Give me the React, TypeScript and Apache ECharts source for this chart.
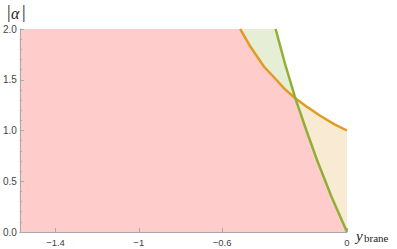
import React, { useEffect, useRef } from "react";
import * as echarts from "echarts";

// Axis extents and ticks
const xMin = -1.571;
const xMax = 0;
const yMin = 0;
const yMax = 2;
const xTickValues = [-1.4, -1, -0.6, 0];

// Orange curve (|alpha| vs y_brane)
const orangeX = [-0.513, -0.462, -0.399, -0.335, -0.3, -0.25, -0.19, -0.129, -0.06, 0];
const orangeY = [2.0, 1.82, 1.63, 1.49, 1.41, 1.32, 1.23, 1.145, 1.06, 1.0];

// Green curve
const greenX = [-0.343, -0.298, -0.248, -0.195, -0.144, -0.075, 0];
const greenY = [2.0, 1.66, 1.317, 1.0, 0.709, 0.35, 0];

// Crossing point of the two curves
const crossX = -0.249;
const crossY = 1.318;

const PINK = "#FFCCCC";
const LIGHT_GREEN = "#E7EED6";
const BEIGE = "#F9EAD4";
const ORANGE = "#E19C24";
const GREEN = "#8FB032";

function pts(xs: number[], ys: number[]) {
  return xs.map((x, i) => [x, ys[i]]);
}

export default function App() {
  const ref = useRef<HTMLDivElement>(null);
  useEffect(() => {
    if (!ref.current) return;
    const chart = echarts.init(ref.current, undefined, { renderer: "svg" });

    const orange = pts(orangeX, orangeY);
    const green = pts(greenX, greenY);

    const greenFill = [
      [xMin, yMax],
      ...green.filter((p) => p[1] > crossY),
      [crossX, crossY],
      ...orange.filter((p) => p[0] > crossX),
    ];
    const beigeFill = [[xMin, yMax], ...orange];
    const pinkFill = [
      [xMin, yMax],
      ...orange.filter((p) => p[0] < crossX),
      [crossX, crossY],
      ...green.filter((p) => p[0] > crossX),
    ];

    const fill = (data: number[][], color: string) => ({
      type: "line",
      data,
      symbol: "none",
      lineStyle: { width: 0 },
      areaStyle: { color, opacity: 1 },
      silent: true,
    });

    chart.setOption({
      animation: false,
      grid: { left: 17, right: 50, top: 29, bottom: 17, containLabel: false },
      xAxis: {
        type: "value",
        min: xMin,
        max: xMax,
        axisLine: { onZero: false, lineStyle: { color: "#A8A8A8", width: 1 } },
        axisTick: {
          inside: true,
          length: 4,
          customValues: xTickValues,
          lineStyle: { color: "#A8A8A8" },
        },
        axisLabel: {
          customValues: xTickValues,
          formatter: (v: number) => (v === 0 ? "0" : "\u2212" + Math.abs(v)),
          fontSize: 9.5,
          fontFamily: "Liberation Sans",
          color: "#444",
          margin: 5,
          showMinLabel: true,
          showMaxLabel: true,
        },
        splitLine: { show: false },
        z: 10,
      },
      yAxis: {
        type: "value",
        min: yMin,
        max: yMax,
        interval: 0.5,
        axisLine: { show: true, onZero: false, lineStyle: { color: "#A8A8A8", width: 1 } },
        axisTick: { show: true, inside: true, length: 4, lineStyle: { color: "#A8A8A8" } },
        minorTick: { show: true, splitNumber: 5, length: 2, lineStyle: { color: "#A8A8A8" } },
        axisLabel: {
          formatter: (v: number) => v.toFixed(1),
          fontSize: 10,
          fontFamily: "Liberation Sans",
          color: "#444",
          margin: 3,
        },
        splitLine: { show: false },
        z: 10,
      },
      graphic: [
        { type: "text", x: 7, y: 12, style: { text: "|", font: "18px 'Liberation Serif'", fill: "#222", verticalAlign: "middle" } },
        { type: "text", x: 11, y: 13, style: { text: "α", font: "italic 16px 'Liberation Serif'", fill: "#222", verticalAlign: "middle" } },
        { type: "text", x: 22, y: 12, style: { text: "|", font: "18px 'Liberation Serif'", fill: "#222", verticalAlign: "middle" } },
        { type: "text", x: 356, y: 236, style: { text: "y", font: "italic 15px 'Liberation Serif'", fill: "#222", verticalAlign: "middle" } },
        { type: "text", x: 364, y: 238, style: { text: "brane", font: "11px 'Liberation Serif'", fill: "#222", verticalAlign: "middle" } },
      ],
      series: [
        fill(greenFill, LIGHT_GREEN),
        fill(beigeFill, BEIGE),
        fill(pinkFill, PINK),
        {
          type: "line",
          data: orange,
          symbol: "none",
          lineStyle: { color: ORANGE, width: 2.5 },
          z: 5,
        },
        {
          type: "line",
          data: green,
          symbol: "none",
          lineStyle: { color: GREEN, width: 2.5 },
          z: 6,
        },
      ],
    });
    return () => chart.dispose();
  }, []);
  return <div ref={ref} style={{ width: 397, height: 249, position: "absolute", left: 0, top: 0 }} />;
}
